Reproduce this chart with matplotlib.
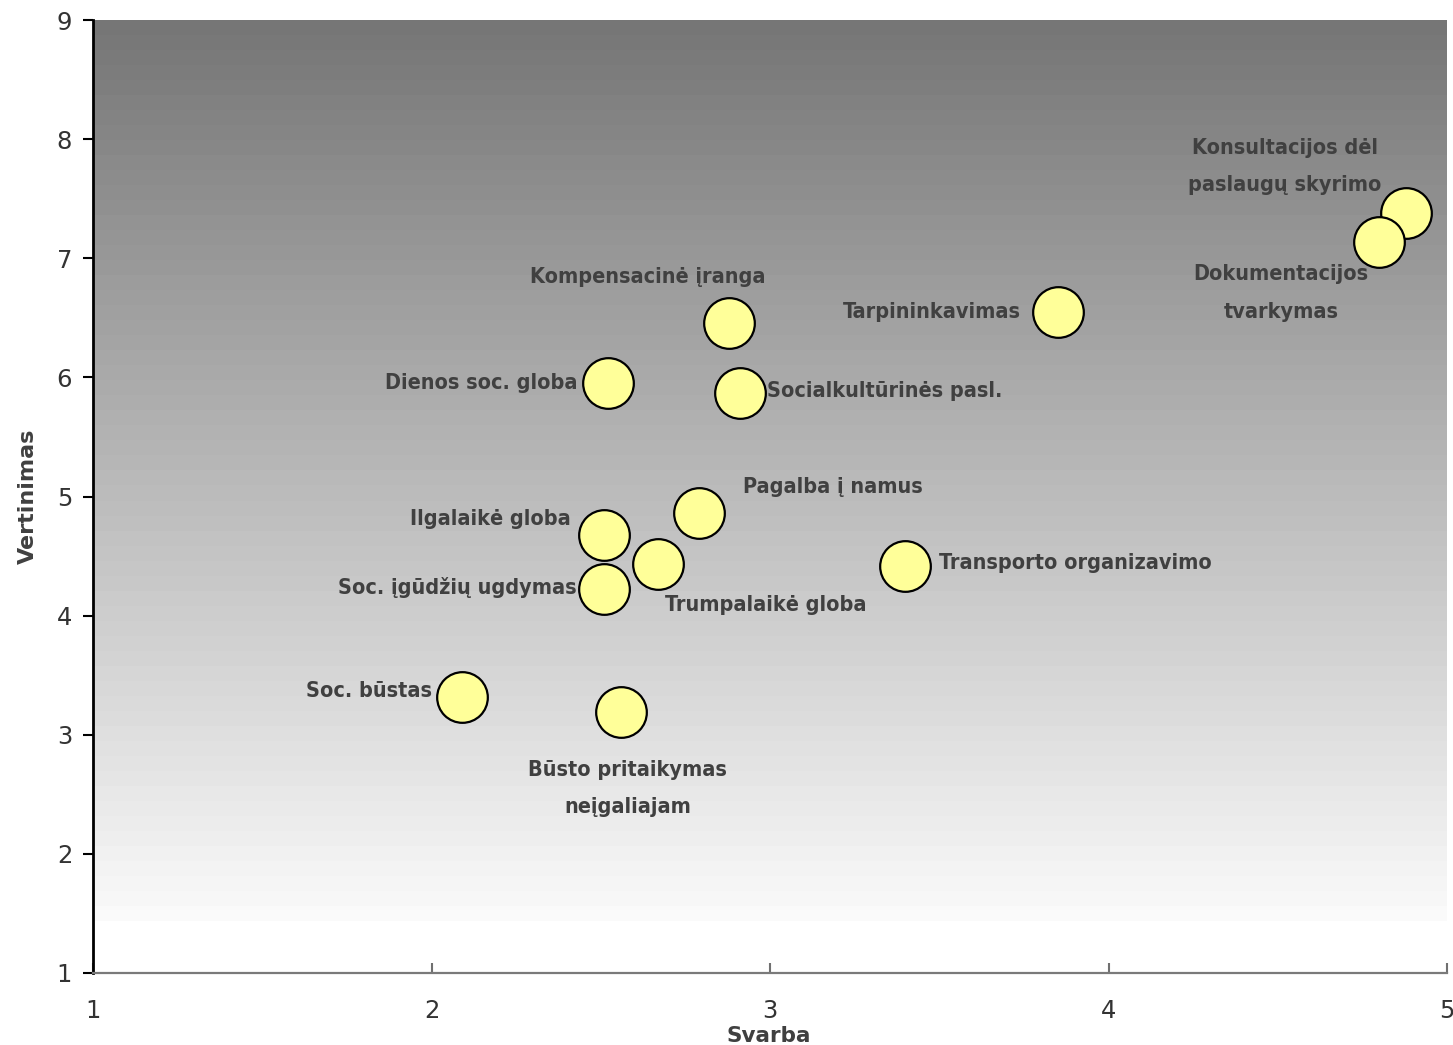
import matplotlib
matplotlib.use("Agg")
import matplotlib.pyplot as plt
import numpy as np

# ---- data ----
services = [
    "Konsultacijos dėl\npaslaugų skyrimo",
    "Dokumentacijos\ntvarkymas",
    "Tarpininkavimas",
    "Kompensacinė įranga",
    "Dienos soc. globa",
    "Socialkultūrinės pasl.",
    "Pagalba į namus",
    "Ilgalaikė globa",
    "Trumpalaikė globa",
    "Transporto organizavimo",
    "Soc. įgūdžių ugdymas",
    "Soc. būstas",
    "Būsto pritaikymas\nneįgaliajam",
]
svarba = [4.88, 4.80, 3.85, 2.88, 2.52, 2.91, 2.79, 2.51, 2.67, 3.40, 2.51, 2.09, 2.56]
vertinimas = [7.38, 7.14, 6.55, 6.46, 5.95, 5.87, 4.86, 4.68, 4.43, 4.42, 4.22, 3.32, 3.19]
x_ticks = [1, 2, 3, 4, 5]
y_ticks = [1, 2, 3, 4, 5, 6, 7, 8, 9]

# ---- label layout (x, y, ha) ----
label_pos = [
    (4.52, 7.77, "center"),
    (4.51, 6.71, "center"),
    (3.74, 6.55, "right"),
    (2.64, 6.84, "center"),
    (2.43, 5.95, "right"),
    (2.99, 5.885, "left"),
    (2.92, 5.08, "left"),
    (2.41, 4.81, "right"),
    (2.69, 4.09, "left"),
    (3.50, 4.44, "left"),
    (2.43, 4.24, "right"),
    (2.00, 3.37, "right"),
    (2.58, 2.55, "center"),
]

W, H = 1453, 1045
fig = plt.figure(figsize=(W / 100, H / 100), dpi=100)
ax = fig.add_axes([93 / W, 1 - 973 / H, (1447 - 93) / W, (973 - 20) / H])
ax.set_xlim(1, 5)
ax.set_ylim(1, 9)

# gradient background (banded, dark top to near white)
nb = 60
vals = np.linspace(118, 250, nb) / 255.0
grad = np.repeat(vals[:, None], 2, axis=1)
grad_rgb = np.dstack([grad, grad, grad])
ax.imshow(grad_rgb, extent=[1, 5, 1.44, 9], origin="upper", aspect="auto",
          interpolation="nearest", zorder=0)

ax.scatter(svarba, vertinimas, s=1330, facecolor="#FFFF99", edgecolor="black",
           linewidths=1.6, zorder=3)

txt_color = "#404040"
for name, (lx, ly, ha) in zip(services, label_pos):
    ax.text(lx, ly, name, ha=ha, va="center", fontsize=15.5, fontweight="bold",
            color=txt_color, linespacing=2.1, zorder=4,
            fontfamily="DejaVu Sans", fontstretch="condensed")

ax.set_xticks(x_ticks)
ax.set_yticks(y_ticks)
ax.tick_params(axis="y", direction="out", length=7, width=1.5, pad=8,
               labelsize=17.5, labelcolor="#333333", color="black")
ax.tick_params(axis="x", direction="in", length=7, width=1.5, pad=19,
               labelsize=17.5, labelcolor="#333333", color="#707070")

for s in ["top", "right"]:
    ax.spines[s].set_visible(False)
ax.spines["left"].set_color("black")
ax.spines["left"].set_linewidth(2)
ax.spines["bottom"].set_color("#7a7a7a")
ax.spines["bottom"].set_linewidth(1.6)

ax.set_xlabel("Svarba", fontsize=15.5, fontweight="bold", color=txt_color)
ax.set_ylabel("Vertinimas", fontsize=16, fontweight="bold", color=txt_color)
ax.xaxis.set_label_coords(0.499, -0.056)
ax.yaxis.set_label_coords(-0.041, 0.5)

fig.savefig("out.png", dpi=100)
